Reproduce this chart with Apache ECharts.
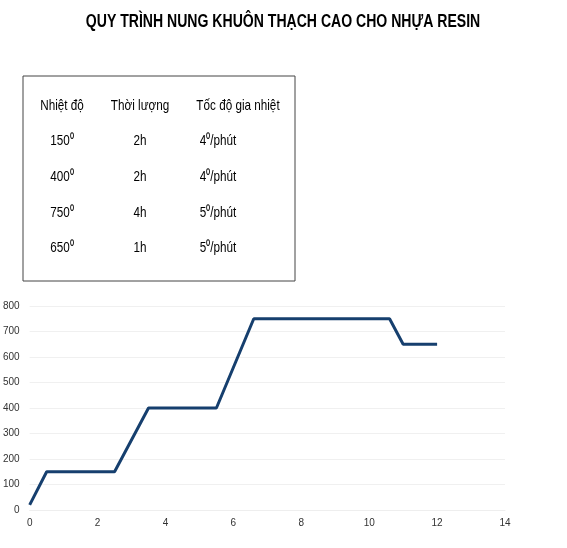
<!DOCTYPE html>
<html><head><meta charset="utf-8">
<script src="https://cdn.jsdelivr.net/npm/echarts@6/dist/echarts.min.js"></script>
<style>html,body{margin:0;padding:0;background:#fff}#c{width:567px;height:548px}</style>
</head><body><div id="c"></div>
<script>
const hours = [0, 0.5, 2.5, 3.5, 5.5, 6.6, 10.6, 11, 12];
const temps = [20, 150, 150, 400, 400, 750, 750, 650, 650];
const title = 'QUY TRÌNH NUNG KHUÔN THẠCH CAO CHO NHỰA RESIN';
const tableHeader = ['Nhiệt độ', 'Thời lượng', 'Tốc độ gia nhiệt'];
const tableTemps = ['150⁰', '400⁰', '750⁰', '650⁰'];
const tableDur = ['2h', '2h', '4h', '1h'];
const tableRate = ['4⁰/phút', '4⁰/phút', '5⁰/phút', '5⁰/phút'];

const F = '"Liberation Sans", Arial, sans-serif';
const colX = [62, 140, 238];
const rowY = [106, 141, 177, 213, 248];
const txt = [];
function t(x, y, s, size, bold, sx){
  txt.push({type:'text', position:[x,y], scaleX:sx, scaleY:1,
    style:{x:0, y:0, text:s, font:(bold?'bold ':'')+size+'px '+F, fill:'#000', textAlign:'center', textVerticalAlign:'middle'}});
}
t(283, 22, title, 19, true, 0.74);
tableHeader.forEach((h,i)=>t(colX[i], rowY[0], h, 15, false, 0.78));
tableTemps.forEach((v,i)=>{ t(colX[0], rowY[i+1], v, 15, false, 0.78); t(colX[1], rowY[i+1], tableDur[i], 15, false, 0.78); t(colX[2]-20, rowY[i+1], tableRate[i], 15, false, 0.78); });

const chart = echarts.init(document.getElementById('c'));
chart.setOption({
  animation:false,
  graphic:[{type:'rect', shape:{x:23, y:76, width:272, height:205}, style:{fill:'none', stroke:'#444', lineWidth:1}}].concat(txt),
  grid:{left:29, right:62, top:306, bottom:38},
  xAxis:{type:'value', min:0, max:14, interval:2,
    axisLine:{show:true, lineStyle:{color:'#eee'}}, axisTick:{show:false}, splitLine:{show:false},
    axisLabel:{color:'#333', fontSize:10, fontFamily:F}},
  yAxis:{type:'value', min:0, max:800, interval:100,
    axisLine:{show:false}, axisTick:{show:false},
    splitLine:{lineStyle:{color:'#f0f0f0'}},
    axisLabel:{color:'#333', fontSize:10, fontFamily:F, margin:10}},
  series:[{type:'line', data:hours.map((h,i)=>[h,temps[i]]), showSymbol:false,
    lineStyle:{color:'#163f6e', width:3}}]
});
</script></body></html>
